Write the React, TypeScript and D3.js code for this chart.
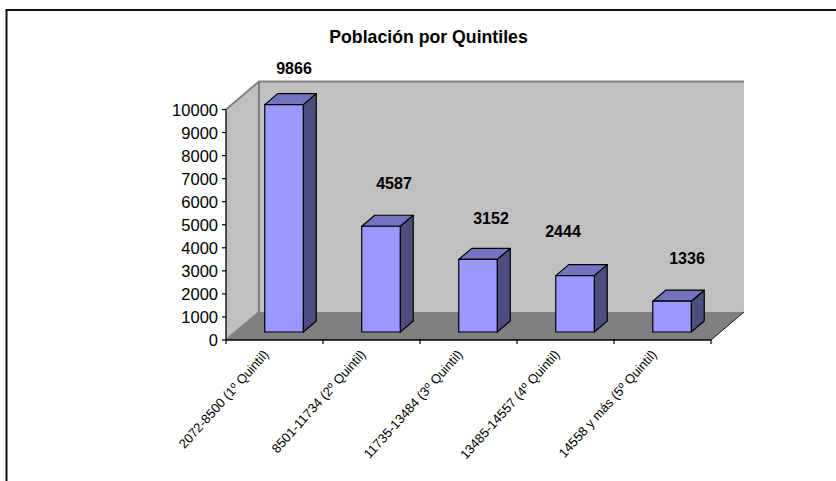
import React from "react";
import * as d3 from "d3";

const title = "Población por Quintiles";
const categories = [
  "2072-8500 (1º Quintil)",
  "8501-11734 (2º Quintil)",
  "11735-13484 (3º Quintil)",
  "13485-14557 (4º Quintil)",
  "14558 y más (5º Quintil)",
];
const values = [9866, 4587, 3152, 2444, 1336];
const yTicks = [0, 1000, 2000, 3000, 4000, 5000, 6000, 7000, 8000, 9000, 10000];
const labelDx = [19.5, 22.5, 22.5, -2.5, 24.5];
const labelBaseline = [74, 189, 224, 237, 264];

const FONT = "Liberation Sans, Arial, sans-serif";

const x = d3.scaleBand<string>().domain(categories).range([226, 711]).paddingInner(0).paddingOuter(0);
const y = d3.scaleLinear().domain([0, 10000]).range([340, 109.5]);
const backDx = 33, backDy = -28;
const barDx = 9.5, barDy = -8;
const depthDx = 13, depthDy = -11;
const barW = 38.5;

const poly = d3.line<[number, number]>();

export default function App() {
  const [x0, x1] = x.range();
  const y0 = y(0), yTop = y(10000);
  return (
    <svg width={836} height={481} style={{ position: "absolute", left: 0, top: 0, background: "#fff" }}>
      <path d="M6.5,481V10H836" fill="none" stroke="#111" strokeWidth={2} />
      <text x={428.5} y={42.5} textAnchor="middle" fontFamily={FONT} fontWeight="bold" fontSize={17.7}>{title}</text>

      <path d={poly([[x0, yTop], [x0 + backDx, yTop + backDy], [x0 + backDx, y0 + backDy], [x0, y0]])! + "Z"} fill="#c0c0c0" />
      <path d={poly([[x0 + backDx, yTop + backDy], [x1 + backDx, yTop + backDy], [x1 + backDx, y0 + backDy], [x0 + backDx, y0 + backDy]])! + "Z"} fill="#c0c0c0" />
      <path d={poly([[x0, y0], [x0 + backDx, y0 + backDy], [x1 + backDx, y0 + backDy], [x1, y0]])! + "Z"} fill="#808080" />
      <path d={poly([[x0, yTop], [x0 + backDx, yTop + backDy], [x1 + backDx, yTop + backDy]])!} fill="none" stroke="#808080" strokeWidth={2} />
      <path d={poly([[x0 + backDx, yTop + backDy], [x0 + backDx, y0 + backDy], [x0, y0]])!} fill="none" stroke="#808080" strokeWidth={2} />
      <path d={poly([[x1, y0], [x1 + backDx, y0 + backDy]])!} fill="none" stroke="#111" strokeWidth={1} />

      {categories.map((c, i) => {
        const left = x(c)! + (x.bandwidth() - barW) / 2 + barDx;
        const right = left + barW;
        const bottom = y0 + barDy;
        const top = y(values[i]) + barDy;
        return (
          <g key={c} stroke="#000" strokeWidth={1.2} strokeLinejoin="round">
            <path d={poly([[right, top], [right + depthDx, top + depthDy], [right + depthDx, bottom + depthDy], [right, bottom]])! + "Z"} fill="#4d4d80" />
            <path d={poly([[left, top], [left + depthDx, top + depthDy], [right + depthDx, top + depthDy], [right, top]])! + "Z"} fill="#7373bf" />
            <rect x={left} y={top} width={barW} height={bottom - top} fill="#9999ff" />
          </g>
        );
      })}

      {categories.map((c, i) => (
        <text key={c} x={x(c)! + x.bandwidth() / 2 + labelDx[i]} y={labelBaseline[i]} textAnchor="middle" fontFamily={FONT} fontWeight="bold" fontSize={16}>{values[i]}</text>
      ))}

      <path d={`M${x0},${yTop}V${y0}H${x1}`} fill="none" stroke="#000" strokeWidth={1.3} />
      {yTicks.map((t) => (
        <g key={t}>
          <line x1={x0 - 4} x2={x0} y1={y(t)} y2={y(t)} stroke="#000" strokeWidth={1.2} />
          <text x={218} y={y(t) + 6} textAnchor="end" fontFamily={FONT} fontSize={16.5} fill="#000">{t}</text>
        </g>
      ))}
      {[...categories.map((c) => x(c)!), x1].map((p) => (
        <line key={p} x1={p} x2={p} y1={y0} y2={y0 + 4} stroke="#000" strokeWidth={1.2} />
      ))}
      {categories.map((c) => {
        const cx = x(c)! + x.bandwidth() / 2;
        return (
          <text key={c} transform={`translate(${cx - 5},${y0 + 15}) rotate(-48)`} textAnchor="end" fontFamily={FONT} fontSize={13} fill="#000">{c}</text>
        );
      })}
    </svg>
  );
}
